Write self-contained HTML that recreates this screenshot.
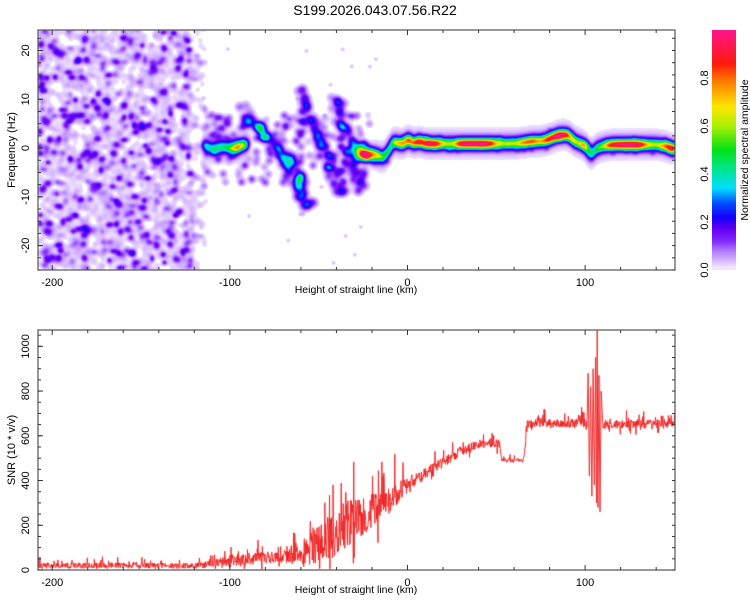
<!DOCTYPE html>
<html><head><meta charset="utf-8"><style>
body{margin:0;background:#fff;font-family:"Liberation Sans",sans-serif;}
#wrap{position:relative;width:750px;height:600px;overflow:hidden;}
svg text{font-family:"Liberation Sans",sans-serif;font-size:11px;fill:#000;}
canvas{position:absolute;}
</style></head><body>
<div id="wrap">
<canvas id="spec" width="637" height="240" style="left:38px;top:30px"></canvas>
<canvas id="snr" width="637" height="240" style="left:38px;top:330px"></canvas>
<svg id="ax" width="750" height="600" style="position:absolute;left:0;top:0"></svg>
</div>
<script>
// ---- data ----
const xDomain=[-208,150.6];
const fDomain=[-25,24.2];
const snrDomain=[0,1073];
const xTicks=[-200,-100,0,100];
const fTicks=[-20,-10,0,10,20];
const snrTicks=[0,200,400,600,800,1000];
const cbTicks=[0.0,0.2,0.4,0.6,0.8];
// main ridge: height (km), frequency (Hz), amplitude
const ridgeX=[-115,-110,-105,-100,-95,-92,-90,-20,-17,-14,-11,-8,-5,-2,0,3,6,10,15,20,25,30,35,40,45,50,55,60,65,70,75,80,85,90,94,97,100,103,106,110,115,120,125,130,135,140,145,148,150.6];
const ridgeF=[0.5,0,0.5,0,0.3,0.8,1,-1,-1.5,-2,-0.5,1.5,1,1,2,1,1.5,1,1,1,1,1,1,1,1,1,1,1,1.2,1.5,1.5,2,2.8,2.8,1.5,1,0.5,-1.5,0,0.5,0.8,0.8,0.8,0.8,0.8,0.8,0.5,0,0];
const ridgeA=[0.25,0.3,0.3,0.45,0.62,0.45,0.25,0.35,0.5,0.4,0.45,0.5,0.65,0.7,0.85,0.7,0.85,0.8,0.9,0.55,0.5,0.9,0.92,0.92,0.9,0.6,0.5,0.5,0.7,0.75,0.6,0.85,0.95,0.8,0.5,0.55,0.8,0.35,0.45,0.5,0.85,0.9,0.92,0.9,0.6,0.5,0.7,0.95,0.9];
// diagonal streaks: start/end height, start/end frequency, amplitude
const streakX0=[-92,-68,-61,-41,-28];
const streakX1=[-66,-55,-38,-26,-20];
const streakF0=[7.7,-3,11.4,10,0];
const streakF1=[-3,-12,-9.3,-8,-2];
const streakA=[0.26,0.14,0.26,0.22,0.2];
// SNR trend
const snrX=[-208,-150,-120,-110,-100,-90,-80,-70,-60,-50,-40,-30,-20,-10,0,10,20,30,40,50,52,53,65,66,67,75,90,100,110,130,150.6];
const snrY=[20,20,18,25,40,45,55,60,80,110,170,230,260,320,380,430,480,530,560,570,560,490,490,520,650,660,655,660,650,650,655];
const snrAmp=[14,14,14,20,35,30,30,35,60,95,120,110,90,65,45,30,25,25,25,25,15,12,12,20,22,22,22,25,22,22,22];
// oscillation burst near 105 km
const burstX=[101,101.7,102.4,103.1,103.8,104.5,105.2,105.9,106.4,106.8,107.2,107.8,108.4,109,110];
const burstY=[640,880,420,820,330,900,380,950,300,1073,280,870,260,800,650];
</script>
<script>
const SW=637,SH=240;
function sx(v){return (v-xDomain[0])/(xDomain[1]-xDomain[0])*SW;}
function sf(v){return (fDomain[1]-v)/(fDomain[1]-fDomain[0])*SH;}
function sy(v){return (snrDomain[1]-v)/(snrDomain[1]-snrDomain[0])*SH;}
function hash(a,b){let h=Math.sin(a*127.1+b*311.7)*43758.5453;return h-Math.floor(h);}
function interp(xs,ys,x){if(x<=xs[0])return ys[0];for(let i=1;i<xs.length;i++){if(x<=xs[i]){const t=(x-xs[i-1])/(xs[i]-xs[i-1]);return ys[i-1]+t*(ys[i]-ys[i-1]);}}return ys[ys.length-1];}
// ---- spectrogram field ----
const F=new Float32Array(SW*SH);
function blob(cx,cy,amp,rx,ry){
  const x0=Math.max(0,Math.floor(cx-3*rx)),x1=Math.min(SW-1,Math.ceil(cx+3*rx));
  const y0=Math.max(0,Math.floor(cy-3*ry)),y1=Math.min(SH-1,Math.ceil(cy+3*ry));
  for(let y=y0;y<=y1;y++)for(let x=x0;x<=x1;x++){const dx=(x-cx)/rx,dy=(y-cy)/ry;F[y*SW+x]+=amp*Math.exp(-0.5*(dx*dx+dy*dy));}
}
// noise texture region: light lavender haze
for(let i=0;i<70;i++)for(let j=0;j<50;j++){
  const x=-208+i*1.35+hash(i,j+7)*1.2, f=-25+j*1.0+hash(i+3,j)*1.0;
  const h=hash(i,j);
  let a=h<0.5?0:0.02;
  if(x>-122) a*=(h>0.8?1:0);
  if(a>0)blob(sx(x),sf(f),a,2.2,2.2);
}
// darker purple spots
for(let i=0;i<46;i++)for(let j=0;j<32;j++){
  const x=-208+i*2.05+hash(i,j+7)*1.5, f=-25+j*1.56+hash(i+3,j)*1.2;
  const h=hash(i+50,j+20);
  let a=h<0.78?0:h<0.9?0.07:0.14;
  if(x>-122) a*=0.4;
  if(a>0)blob(sx(x),sf(f),a,1.8+hash(j,i)*1.2,1.8+hash(j+1,i)*1.0);
}
// sparse faint dots to the right
for(let i=0;i<60;i++){const x=-115+i*1.7,f=-24+hash(i,99)*48;if(hash(i,5)>0.55&&Math.abs(f)>6)blob(sx(x),sf(f),0.035,1.5,1.5);}
// diffuse purple cloud between -115 and -20 around 0
for(let i=0;i<160;i++){const x=-115+hash(i,11)*95,f=(hash(i,13)-0.5)*14;blob(sx(x),sf(f),0.03+0.08*hash(i,17),2.5,2.5);}
// streaks
for(let s=0;s<streakX0.length;s++){
  const n=22;
  for(let k=0;k<=n;k++){const t=k/n;const x=streakX0[s]+t*(streakX1[s]-streakX0[s]);const f=streakF0[s]+t*(streakF1[s]-streakF0[s]);
    blob(sx(x)+(hash(s,k)-0.5)*10,sf(f)+(hash(k,s)-0.5)*8,streakA[s]*(0.3+0.7*hash(s+1,k))/1.6,3,3);
    blob(sx(x)+(hash(s,k+40)-0.5)*16,sf(f)+(hash(k+40,s)-0.5)*12,0.06,3,3);}
}
// ridge
for(let x=-115;x<=150.6;x+=0.5){
  if(x>-90&&x<-20)continue;
  const f=interp(ridgeX,ridgeF,x),a=interp(ridgeX,ridgeA,x);
  blob(sx(x),sf(f),a/6.2,2.2,3.6);
  blob(sx(x),sf(f),0.1/6.2,2.2,8);
  if(hash(Math.round(x*2),3)>0.85)blob(sx(x)+(hash(Math.round(x*2),4)-0.5)*6,sf(f)+(hash(Math.round(x*2),5)-0.5)*18,0.05,2,2);
}
// colormap
const cStops=[[0,[255,255,255]],[0.012,[240,228,255]],[0.04,[214,182,255]],[0.08,[175,120,255]],[0.12,[130,40,255]],[0.17,[100,0,240]],[0.22,[20,0,255]],[0.28,[0,80,255]],[0.34,[0,220,255]],[0.42,[0,230,140]],[0.5,[0,225,20]],[0.6,[170,240,0]],[0.68,[255,230,0]],[0.78,[255,130,0]],[0.86,[255,25,10]],[1.0,[255,20,140]]];
function cmap(v){if(v<0.012)return [255,255,255];if(v>=1)v=1;for(let i=1;i<cStops.length;i++){if(v<=cStops[i][0]){const a=cStops[i-1],b=cStops[i];const t=(v-a[0])/(b[0]-a[0]);return [0,1,2].map(k=>Math.round(a[1][k]+t*(b[1][k]-a[1][k])));}}return cStops[cStops.length-1][1];}
{const c=document.getElementById('spec').getContext('2d');const img=c.createImageData(SW,SH);
for(let p=0;p<SW*SH;p++){const col=cmap(F[p]);img.data[p*4]=col[0];img.data[p*4+1]=col[1];img.data[p*4+2]=col[2];img.data[p*4+3]=255;}
c.putImageData(img,0,0);}
// ---- SNR line ----
{const c=document.getElementById('snr').getContext('2d');c.strokeStyle='rgba(238,30,30,0.9)';c.lineWidth=1;c.beginPath();let first=true;
const xs=[];for(let x=xDomain[0];x<=xDomain[1];x+=0.22)if(x<burstX[0]||x>burstX[burstX.length-1])xs.push(x);
burstX.forEach(b=>xs.push(b));xs.sort((a,b)=>a-b);
for(const x of xs){
  let y;
  if(x>=burstX[0]&&x<=burstX[burstX.length-1]) y=interp(burstX,burstY,x);
  else{const tr=interp(snrX,snrY,x),am=interp(snrX,snrAmp,x);const i=Math.round(x*10);const h=hash(i,3)-0.5;const sp=hash(i,9);
    y=tr+am*h*1.8+(sp>0.9?am*2.4*hash(i,4):0)-(sp<0.06?am*1.6*hash(i,6):0);if(y<2)y=2+hash(i,1)*6;}
  const px=sx(x),py=sy(y);if(first){c.moveTo(px,py);first=false;}else c.lineTo(px,py);}
c.stroke();}
// ---- axes (SVG) ----
const svg=document.getElementById('ax');const NS='http://www.w3.org/2000/svg';
function el(tag,attrs,parent){const e=document.createElementNS(NS,tag);for(const k in attrs)e.setAttribute(k,attrs[k]);(parent||svg).appendChild(e);return e;}
function txt(s,attrs,name){const e=el('text',attrs);e.textContent=s;


return e;}
const t=txt('S199.2026.043.07.56.R22',{x:375,y:15,'text-anchor':'middle'},'chart-title');t.style.fontSize='14px';
function panel(top,yTicksArr,yfun,ylabel,name,minorStep,yMinor0,yMinor1){
  const g=el('g',{});
  
  
  el('rect',{x:38,y:top,width:637,height:240,fill:'none',stroke:'#555','stroke-width':1.2},g);
  for(let v=-200;v<=150;v+=20){const X=38+sx(v);const major=v%100===0;
    el('line',{x1:X,x2:X,y1:top+240,y2:top+240-(major?5:3),stroke:'#333'},g);
    el('line',{x1:X,x2:X,y1:top,y2:top+(major?5:3),stroke:'#333'},g);}
  xTicks.forEach(v=>{txt(String(v),{x:38+sx(v),y:top+256,'text-anchor':'middle'},'x-tick-label');});
  for(let v=yMinor0;v<=yMinor1;v+=minorStep){const Y=top+yfun(v);if(Y<top||Y>top+240)continue;
    el('line',{x1:38,x2:41,y1:Y,y2:Y,stroke:'#333'},g);el('line',{x1:675,x2:672,y1:Y,y2:Y,stroke:'#333'},g);}
  yTicksArr.forEach(v=>{const Y=top+yfun(v);el('line',{x1:38,x2:43,y1:Y,y2:Y,stroke:'#333'},g);
    txt(String(v),{x:29,y:Y,'text-anchor':'middle',transform:`rotate(-90 29 ${Y})`},'y-tick-label');});
  txt('Height of straight line (km)',{x:356,y:top+263,'text-anchor':'middle'},'x-axis-title').style.fontSize='10.5px';
  txt(ylabel,{x:15,y:top+120,'text-anchor':'middle',transform:`rotate(-90 15 ${top+120})`},'y-axis-title');
}
panel(30,fTicks,sf,'Frequency (Hz)','spectrogram-panel',2.5,-25,25);
panel(330,snrTicks,sy,'SNR (10 * v/v)','snr-panel',50,0,1100);
// colorbar
const defs=el('defs',{});const lg=el('linearGradient',{id:'cb',x1:0,y1:1,x2:0,y2:0},defs);
cStops.forEach(s=>{const c=s[0]===0?[240,228,255]:s[1];el('stop',{offset:s[0],'stop-color':`rgb(${c})`},lg);});
const cb=el('rect',{x:712,y:30,width:24,height:240,fill:'url(#cb)'});


cbTicks.forEach(v=>{const Y=270-v*240;txt(v.toFixed(1),{x:708,y:Y,'text-anchor':'middle',transform:`rotate(-90 708 ${Y})`},'colorbar-tick-label');});
txt('Normalized spectral amplitude',{x:748,y:150,'text-anchor':'middle',transform:'rotate(-90 748 150)'},'colorbar-title').style.fontSize='10.5px';
</script>
</body></html>
